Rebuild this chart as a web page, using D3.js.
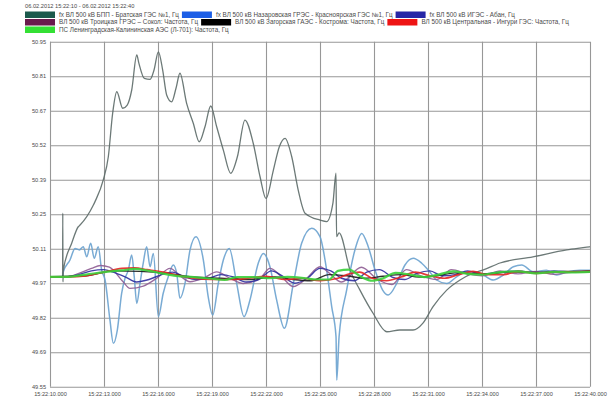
<!DOCTYPE html>
<html>
<head>
<meta charset="utf-8">
<title>Frequency</title>
<script src="https://cdn.jsdelivr.net/npm/d3@7"></script>
<style>
  body { margin: 0; background: #fff; }
  text { font-family: "Liberation Sans", Arial, sans-serif; fill: #4a4a4a; }
</style>
</head>
<body>
<svg width="615" height="404" id="mainsvg"></svg>
<script>
    // period shown in the header
    const periodText = "06.02.2012 15:22:10 - 06.02.2012 15:22:40";

    const seriesNames = [
        "fx ВЛ 500 кВ БПП - Братская ГЭС №1, Гц",
        "fx ВЛ 500 кВ Назаровская ГРЭС - Красноярская ГЭС №1, Гц",
        "fx ВЛ 500 кВ ИГЭС - Абан, Гц",
        "ВЛ 500 кВ Троицкая ГРЭС – Сокол: Частота, Гц",
        "ВЛ 500 кВ Загорская ГАЭС - Кострома: Частота, Гц",
        "ВЛ 500 кВ Центральная - Ингури ГЭС: Частота, Гц",
        "ПС Ленинградская-Калининская АЭС (Л-701): Частота, Гц"
    ];

    // x = seconds after 15:22:00
    const xTickValues = [10, 13, 16, 19, 22, 25, 28, 31, 34, 37, 40];
    const xTickLabels = ["15:22:10.000", "15:22:13.000", "15:22:16.000", "15:22:19.000",
        "15:22:22.000", "15:22:25.000", "15:22:28.000", "15:22:31.000",
        "15:22:34.000", "15:22:37.000", "15:22:40.000"];
    const yTickLabels = ["49.55", "49.69", "49.82", "49.97", "50.11", "50.25",
        "50.39", "50.52", "50.67", "50.81", "50.95"];

    // [seconds, Hz]
    const bratsk = [[10,49.996],[10.7,49.996],[10.71,50.254],[10.72,49.975],[10.74,50.023],[11.21,50.133],
        [11.57,50.199],[11.67,50.206],[12.41,50.287],[12.5,50.301],[12.96,50.389],[13.24,50.483],
        [13.48,50.659],[13.71,50.747],[14.04,50.68],[14.29,50.693],[14.54,50.754],[14.82,50.896],
        [14.94,50.862],[15.24,50.801],[15.56,50.797],[15.78,50.835],[16.02,50.909],[16.26,50.835],
        [16.48,50.734],[16.76,50.706],[17,50.761],[17.22,50.822],[17.59,50.7],[17.96,50.619],
        [18.29,50.544],[18.61,50.605],[18.93,50.689],[19.26,50.605],[19.63,50.51],[20.04,50.416],
        [20.41,50.483],[20.83,50.632],[21.29,50.538],[21.67,50.402],[22,50.314],[22.41,50.429],
        [22.74,50.524],[23.06,50.558],[23.43,50.483],[23.79,50.348],[24.17,50.254],[25,50.226],
        [25.37,50.22],[25.72,50.296],[25.89,50.417],[25.92,50.159],[26.06,50.174],[26.67,50.023],
        [27.22,49.942],[27.94,49.849],[28.71,49.773],[29.44,49.78],[30.17,49.78],[30.72,49.808],
        [31.28,49.875],[32.04,49.942],[32.78,49.983],[33.5,50.011],[34.04,50.023],[35,50.052],
        [36.83,50.077],[38.71,50.105],[39.82,50.116],[40,50.118]];

    const nazarovo = [[10,49.996],[10.7,49.996],[10.74,50.016],[11.11,50.064],[11.39,50.111],[11.63,50.105],
        [11.85,50.118],[12.04,50.077],[12.26,50.132],[12.46,50.071],[12.68,50.118],[12.87,50.023],
        [13.06,49.983],[13.33,49.821],[13.52,49.726],[13.74,49.78],[13.98,49.929],[14.17,49.99],
        [14.35,50.023],[14.54,50.084],[14.68,49.996],[14.82,49.888],[15,49.969],[15.18,50.051],
        [15.37,50.118],[15.56,50.037],[15.74,50.091],[16.02,49.834],[16.29,49.929],[16.57,49.996],
        [16.85,50.044],[17.04,50.01],[17.22,49.909],[17.5,49.969],[17.78,50.105],[18.11,50.159],
        [18.52,50.064],[18.79,49.915],[19.04,49.841],[19.35,49.969],[19.63,50.064],[19.96,50.111],
        [20.37,49.969],[20.78,49.834],[21.11,49.902],[21.57,50.051],[21.85,50.091],[22.22,50.037],
        [22.59,49.902],[23.02,49.787],[23.52,49.969],[23.98,50.132],[24.54,50.193],[25,50.159],
        [25.37,50.023],[25.65,49.875],[25.89,49.753],[25.93,49.577],[26.06,49.753],[26.48,49.942],
        [26.94,50.105],[27.32,50.172],[27.68,50.118],[28.06,50.023],[28.48,49.942],[28.79,49.922],
        [29.26,49.969],[29.72,50.044],[30.18,50.071],[30.65,50.051],[31.02,50.023],[31.48,49.983],
        [32.04,49.969],[32.59,49.996],[33.15,50.016],[33.52,50.016],[34.07,50.003],[34.63,49.983],
        [35.18,50.003],[35.74,50.037],[36.21,50.044],[36.85,50.016],[37.59,50.023],[38.15,50.003],
        [38.71,50.016],[39.44,50.023],[40,50.023]];

    const igesAban = [[10,49.996],[11,49.996],[11.6,50.005],[12.3,50.02],[13,50.025],[13.5,50.015],
        [14.2,49.995],[14.8,49.975],[15.5,49.985],[16.2,50.005],[16.8,50.015],[17.5,49.995],
        [18.1,49.985],[18.8,49.99],[19.5,50.005],[20.2,49.995],[20.9,49.975],[21.6,49.985],
        [22.3,50.02],[22.9,50],[23.6,49.97],[24.3,49.99],[25,50.03],[25.6,50.02],[26.2,49.99],
        [26.9,49.98],[27.6,50.015],[28.3,50.025],[29,49.995],[29.7,49.985],[30.4,50.01],
        [31.1,50.02],[31.8,50],[32.5,50.005],[33.2,50.02],[34,50.008],[35,50.015],[36,50.02],
        [37,50.012],[38,50.02],[39,50.016],[40,50.018]];

    const troitsk = [[10,49.996],[11,49.996],[11.6,50.01],[12.3,50.03],[12.8,50.042],[13.3,50.035],
        [14.06,49.976],[14.44,49.949],[15.18,49.958],[15.93,49.99],[16.67,50.03],[17.22,50],
        [17.78,49.976],[18.52,49.99],[19.26,50.016],[20,49.99],[20.74,49.969],[21.67,49.99],
        [22.22,50.03],[22.87,49.996],[23.52,49.956],[24.26,49.99],[25,50.037],[25.5,50.012],
        [26.2,49.975],[27.3,50.035],[28.2,49.985],[29,49.965],[29.8,50.025],[30.6,50],
        [31.5,49.985],[32.3,50.025],[33.2,50.008],[34,50],[35,50.02],[36,50.008],[37,50.018],
        [38,50.006],[39,50.014],[40,50.014]];

    const zagorsk = [[10,49.996],[12,50],[13.5,50.02],[15,50.018],[16.5,50.01],[18,49.995],
        [19.5,49.99],[21,49.985],[22.5,49.995],[23.5,49.985],[24.5,49.98],[25.5,50.005],
        [26.5,50],[27.5,49.99],[28.5,49.998],[29.5,50.005],[30.5,49.995],[31.5,50],
        [32.5,50.012],[33.5,50.01],[34.5,50.008],[35.5,50.016],[36.5,50.014],[37.5,50.014],
        [38.5,50.018],[39.5,50.018],[40,50.02]];

    const ingury = [[10,49.996],[11,49.996],[12,50],[13,50.015],[14,50.03],[14.7,50.032],
        [15.4,50.025],[16.3,50.015],[17,50.003],[18,49.99],[19,49.985],[20,49.985],[21,49.99],
        [22,49.998],[23.1,49.985],[24,49.99],[25,49.98],[26,49.99],[26.5,50.005],[27.2,50.015],
        [27.9,49.99],[28.7,49.98],[29.5,49.995],[30.3,50.015],[31.1,50],[31.9,49.99],
        [32.7,50.005],[33.5,50.018],[34.3,50.005],[35.2,50.005],[36,50.018],[37,50.01],
        [38,50.015],[39,50.016],[40,50.018]];

    const leningrad = [[10,49.996],[11,49.996],[12,50.005],[13,50.015],[14,50.022],[14.7,50.028],
        [15.5,50.02],[16.2,50.01],[17,50],[18,49.995],[19,49.988],[19.7,49.983],[20.4,49.995],
        [21.3,49.995],[22.2,49.99],[23.2,49.996],[24.2,49.99],[24.8,49.985],[25.5,49.985],
        [26,50.02],[26.6,50.025],[27.3,49.995],[27.9,49.98],[28.5,49.99],[29.2,50.012],
        [30,50.005],[30.8,49.995],[31.6,50.005],[32.4,50.018],[33.2,50.008],[34,50.005],
        [35,50.015],[36,50.018],[37,50.01],[38,50.016],[39,50.014],[40,50.016]];

    const seriesData = [bratsk, nazarovo, igesAban, troitsk, zagorsk, ingury, leningrad];

    // legend swatch colours and line colours as they appear on the picture
    const swatchColors = ["#1c5a4c", "#1c5ee6", "#2626a6", "#6a1a4c", "#000000", "#ee1414", "#34e034"];
    const lineColors = ["#5c6a68", "#6aa2cf", "#2e2e9e", "#8e5c94", "#1a1a1a", "#e42222", "#3ad03a"];
    const lineWidths = [1.3, 1.5, 1.4, 1.4, 1.4, 1.7, 2.2];
    const drawOrder = [1, 0, 3, 2, 4, 5, 6];

    const svg = d3.select('#mainsvg');
    const plotLeft = 50, plotTop = 41.7, plotW = 540, plotH = 345;
    const x = d3.scaleLinear().domain([10, 40]).range([plotLeft, plotLeft + plotW]);
    const y = d3.scaleLinear().domain([49.55, 50.95]).range([plotTop + plotH, plotTop]);
    const yTickValues = d3.range(11).map(i => 49.55 + i * 0.14);

    svg.append('rect').attr('width', 615).attr('height', 404).attr('fill', '#fff');

    // header
    svg.append('text').attr('x', 25).attr('y', 8.3)
        .style('font-size', '5.7px').text(periodText);

    // legend, three items per row
    const legend = svg.append('g');
    let cursor = 25;
    seriesNames.forEach((name, i) => {
        const row = Math.floor(i / 3);
        if (i % 3 === 0) cursor = 25;
        const ry = 11.5 + row * 7.5;
        legend.append('rect')
            .attr('x', cursor).attr('y', ry)
            .attr('width', 30).attr('height', 6.5)
            .attr('fill', swatchColors[i]);
        const t = legend.append('text')
            .attr('x', cursor + 34).attr('y', ry + 5.4)
            .style('font-size', '6.3px')
            .text(name);
        cursor += 34 + t.node().getComputedTextLength() + 3;
    });

    // grid + axes
    const gx = svg.append('g')
        .attr('transform', `translate(0,${plotTop + plotH})`)
        .call(d3.axisBottom(x).tickValues(xTickValues).tickSize(-plotH)
            .tickFormat((d, i) => xTickLabels[i]));
    const gy = svg.append('g')
        .attr('transform', `translate(${plotLeft},0)`)
        .call(d3.axisLeft(y).tickValues(yTickValues).tickSize(-plotW)
            .tickFormat((d, i) => yTickLabels[i]));
    [gx, gy].forEach(g => {
        g.select('.domain').remove();
        g.selectAll('line').attr('stroke', '#979797').attr('stroke-width', 1.1);
        g.selectAll('text').style('font-size', '5.6px').attr('fill', '#4a4a4a')
            .style('font-family', '"Liberation Sans", Arial, sans-serif');
    });
    gx.selectAll('text').attr('dy', '0').attr('y', 9);
    gy.selectAll('text').attr('x', -4).attr('dy', '0.32em');

    // curves
    const line = d3.line()
        .x(d => x(d[0]))
        .y(d => y(d[1]))
        .curve(d3.curveMonotoneX);
    const plot = svg.append('g');
    drawOrder.forEach(i => {
        plot.append('path')
            .datum(seriesData[i])
            .attr('d', line)
            .attr('fill', 'none')
            .attr('stroke', lineColors[i])
            .attr('stroke-width', lineWidths[i])
            .attr('stroke-linejoin', 'round')
            .attr('opacity', 0.9);
    });
</script>
</body>
</html>
